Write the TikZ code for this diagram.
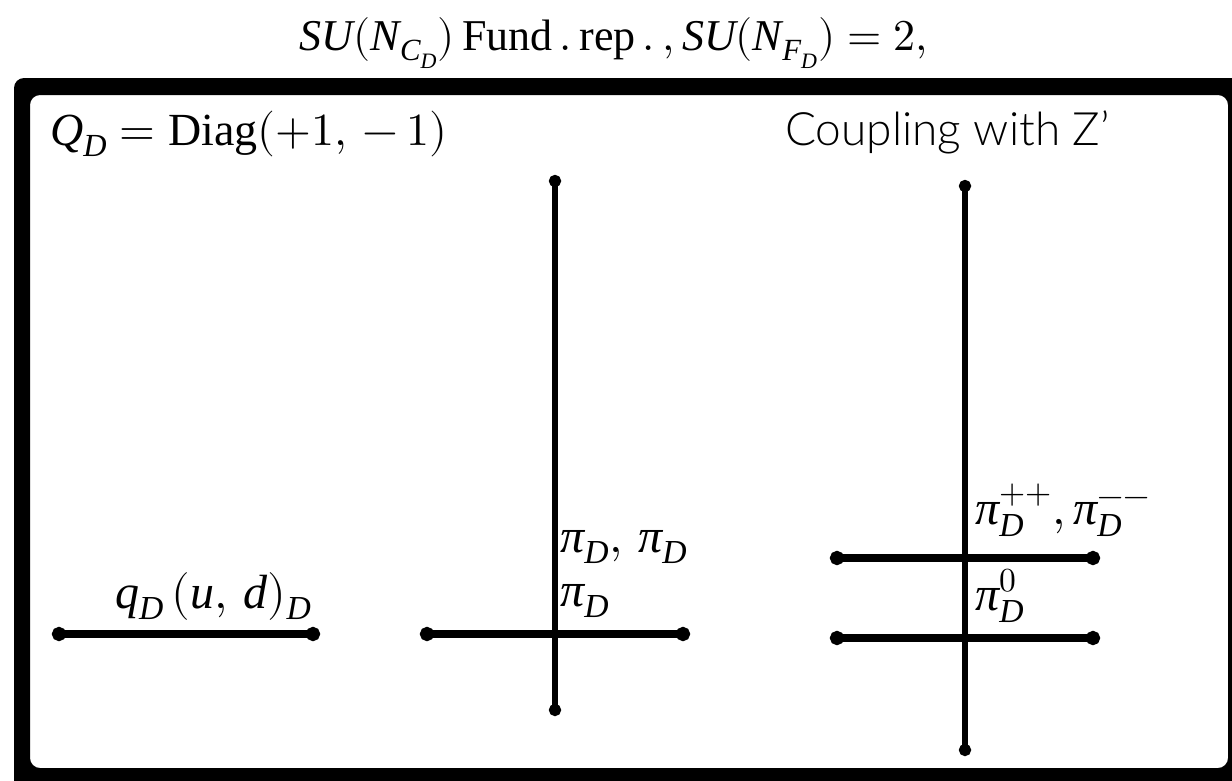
\documentclass[tikz,border=0pt]{standalone}
\usepackage{fontspec}
\usepackage{unicode-math}
\setmainfont{Liberation Serif}
\setmathfont{Latin Modern Math}
\newfontfamily\zpfont{Lato Light}
\usetikzlibrary{arrows.meta}

\begin{document}
\begin{tikzpicture}[
  x=1pt, y=-1pt,
  font=\fontsize{44}{50}\selectfont,
  level/.style={line width=8pt, {Circle[length=14pt]}-{Circle[length=14pt]}},
  axis/.style={line width=6pt, {Circle[length=12pt]}-{Circle[length=12pt]}},
  lbl/.style={anchor=base west, inner sep=0pt, font=\fontsize{48}{54}\selectfont}
]
\useasboundingbox (0,0) rectangle (1232,780);
% frame
\fill[even odd rule, rounded corners=10pt]
  (14,78) rectangle (1250,800)
  (30,95) rectangle (1228,768);
\node (title) [anchor=base, inner sep=0pt] at (614,50)
  {$\mathit{SU}(\mathit{N}_{\mathit{C}_{\mathit{D}}})\,\mathrm{Fund\,.\,rep\,.\,,}\,
   \mathit{SU}(\mathit{N}_{\mathit{F}_{\mathit{D}}}) = 2,$};
\node (charge) [lbl, font=\fontsize{46}{52}\selectfont] at (50,145)
  {$\mathit{Q}_{\mathit{D}} = \mathrm{Diag}(+1,\,-\,1)$};
\node (zprime) [lbl, font=\zpfont\fontsize{46}{52}\selectfont] at (785,145)
  {Coupling with Z’};
% quarks
\coordinate (q1) at (52,634);
\coordinate (q2) at (320,634);
\draw[level] (q1) -- (q2);
\node (quark) [lbl] at (115,608)
  {$\mathit{q}_{\mathit{D}}\,(\mathit{u},\,\mathit{d})_{\mathit{D}}$};
% pions without Z'
\coordinate (a1) at (555,175);
\coordinate (a2) at (555,716);
\coordinate (m1) at (420,634);
\coordinate (m2) at (690,634);
\draw[axis] (a1) -- (a2);
\draw[level] (m1) -- (m2);
\node (pipair) [lbl] at (560,552) {$\mathit{π}_{\mathit{D}},\,\mathit{π}_{\mathit{D}}$};
\node (pione) [lbl] at (560,606) {$\mathit{π}_{\mathit{D}}$};
% pions with Z'
\coordinate (b1) at (965,180);
\coordinate (b2) at (965,756);
\coordinate (u1) at (830,558);
\coordinate (u2) at (1100,558);
\coordinate (l1) at (830,638);
\coordinate (l2) at (1100,638);
\draw[axis] (b1) -- (b2);
\draw[level] (u1) -- (u2);
\draw[level] (l1) -- (l2);
\node (picharged) [lbl] at (975,524)
  {$\mathit{π}_{\mathit{D}}^{++},\mathit{π}_{\mathit{D}}^{--}$};
\node (pizero) [lbl] at (975,610) {$\mathit{π}_{\mathit{D}}^{0}$};
\end{tikzpicture}
\end{document}
